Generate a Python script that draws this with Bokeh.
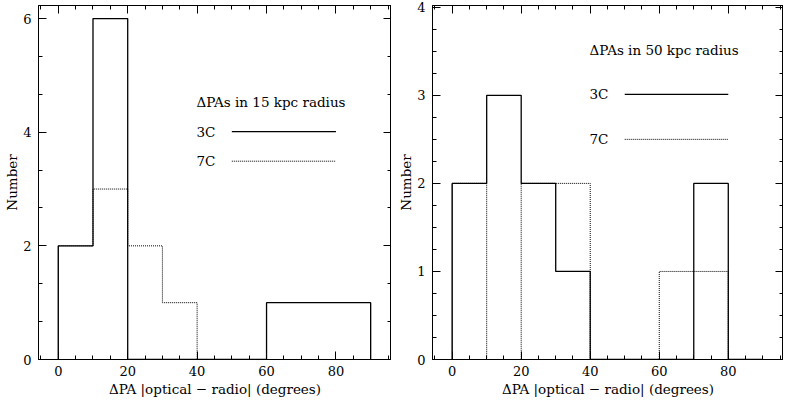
from bokeh.plotting import figure
from bokeh.layouts import row
from bokeh.models import LinearAxis, SingleIntervalTicker, Range1d, CustomJSTickFormatter
from bokeh.core.properties import value
from bokeh.embed import file_html
from bokeh.resources import INLINE

# ---- data ----
bin_edges = [0, 10, 20, 30, 40, 50, 60, 70, 80, 90]
counts_15kpc_3c = [2, 6, 0, 0, 0, 0, 1, 1, 1]
counts_15kpc_7c = [2, 3, 2, 1, 0, 0, 0, 0, 0]
counts_50kpc_3c = [2, 3, 2, 1, 0, 0, 0, 2, 0]
counts_50kpc_7c = [2, 0, 2, 2, 0, 0, 1, 1, 0]
x_label = "ΔPA |optical − radio| (degrees)"
y_label = "Number"
titles = ["ΔPAs in 15 kpc radius", "ΔPAs in 50 kpc radius"]
series_names = ["3C", "7C"]

FONT = "DejaVu Serif"
FONT_V = value(FONT)
FS_TICK = "13px"
FS_TEXT = "13.5px"


def step_outline(edges, counts):
    xs = [edges[0]]
    ys = [0]
    for i, c in enumerate(counts):
        xs += [edges[i], edges[i + 1]]
        ys += [c, c]
    xs.append(edges[-1])
    ys.append(0)
    return xs, ys


def style_axis(ax, ticker, show_labels=True):
    ax.ticker = ticker
    ax.axis_line_color = "black"
    ax.axis_line_width = 1
    ax.major_tick_in = 8
    ax.major_tick_out = 0
    ax.minor_tick_in = 4
    ax.minor_tick_out = 0
    ax.major_tick_line_color = "black"
    ax.minor_tick_line_color = "black"
    ax.major_label_text_font = FONT
    ax.major_label_text_font_size = FS_TICK
    ax.major_label_text_color = "black"
    ax.axis_label_text_font = FONT
    ax.axis_label_text_font_size = FS_TEXT
    ax.axis_label_text_font_style = "normal"
    ax.axis_label_text_color = "black"
    if not show_labels:
        ax.formatter = CustomJSTickFormatter(code="return ''")
        ax.major_label_standoff = 0


def make_panel(c3, c7, ymax, yint, yminor, title, ly, dy, left_border, fw):
    p = figure(frame_width=fw, frame_height=354,
               x_range=Range1d(-5.7, 96.0), y_range=Range1d(0, ymax),
               output_backend="svg", toolbar_location=None,
               min_border_left=left_border, min_border_right=0,
               min_border_top=5, min_border_bottom=0)
    p.grid.visible = False
    p.outline_line_color = "black"
    p.background_fill_color = "white"
    p.border_fill_color = "white"

    xt = lambda: SingleIntervalTicker(interval=20, num_minor_ticks=4)
    yt = lambda: SingleIntervalTicker(interval=yint, num_minor_ticks=yminor)

    style_axis(p.xaxis[0], xt())
    p.xaxis[0].axis_label = x_label
    p.xaxis[0].major_label_standoff = 6
    p.xaxis[0].axis_label_standoff = 2
    style_axis(p.yaxis[0], yt())
    p.yaxis[0].axis_label = y_label
    p.yaxis[0].major_label_standoff = 7
    p.yaxis[0].axis_label_standoff = 0

    top = LinearAxis()
    style_axis(top, xt(), show_labels=False)
    p.add_layout(top, "above")
    right = LinearAxis()
    style_axis(right, yt(), show_labels=False)
    p.add_layout(right, "right")

    xs, ys = step_outline(bin_edges, c3)
    p.line(xs, ys, line_color="black", line_width=1.3)
    xs, ys = step_outline(bin_edges, c7)
    p.line(xs, ys, line_color="black", line_width=1.0, line_dash="1 1")

    # legend block
    p.text(x=[39.8], y=[ly], text=[title], text_font=FONT_V, text_font_size=FS_TEXT,
           text_baseline="middle", text_align="left", text_color="black")
    p.text(x=[39.8, 39.8], y=[ly - dy, ly - 2 * dy],
           text=series_names, text_font=FONT_V, text_font_size=FS_TEXT,
           text_baseline="middle", text_align="left", text_color="black")
    p.line([50, 80], [ly - dy] * 2, line_color="black", line_width=1.3)
    p.line([50, 80], [ly - 2 * dy] * 2, line_color="black", line_width=1.0, line_dash="1 1")
    return p


p1 = make_panel(counts_15kpc_3c, counts_15kpc_7c, 6.23, 2, 3, titles[0], 4.53, 0.52, 38, 353)
p2 = make_panel(counts_50kpc_3c, counts_50kpc_7c, 4.02, 1, 4, titles[1], 3.52, 0.51, 41, 351)

layout = row(p1, p2)
open("out.html", "w").write(file_html(layout, INLINE))
